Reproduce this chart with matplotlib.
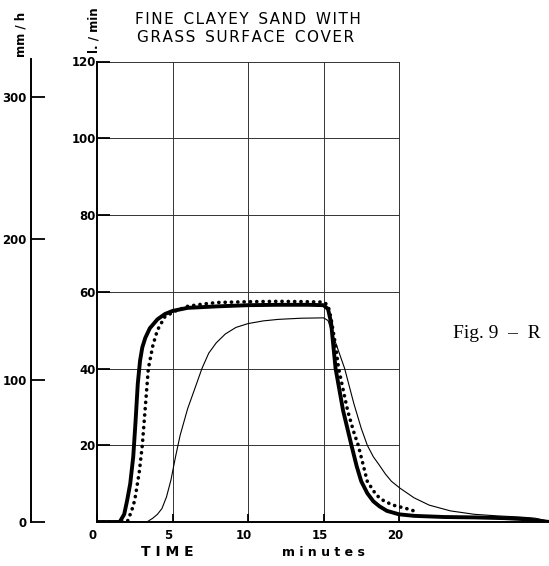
import matplotlib
matplotlib.use("Agg")
import matplotlib.pyplot as plt
from matplotlib.transforms import ScaledTranslation

# ---- data ----
t_thick = [0, 1.5, 1.8, 2.0, 2.2, 2.4, 2.55, 2.7, 2.85, 3.0, 3.2, 3.5, 4.0, 4.5, 5.0, 6, 8, 10, 12, 14, 15,
           15.3, 15.5, 15.8, 16.3, 16.85, 17.2, 17.5, 17.9, 18.3, 18.7, 19.2, 20, 21, 23, 25, 27, 28.5, 29.5, 30]
v_thick = [0, 0, 2, 5.7, 10, 17, 26, 36, 42, 45.5, 48, 50.5, 52.8, 54.2, 55.0, 55.8, 56.2, 56.5, 56.6, 56.6, 56.5,
           55.5, 52, 40, 29, 20, 14.5, 10.6, 7.5, 5.4, 4.1, 2.9, 2.0, 1.6, 1.3, 1.2, 1.0, 0.7, 0.2, 0]

t_dots = [0, 2.0, 2.3, 2.5, 2.8, 3.0, 3.2, 3.4, 3.7, 4.0, 4.5, 5.2, 6.0, 7, 8, 10, 12, 14, 15,
          15.3, 15.5, 15.8, 16.0, 16.6, 17.0, 17.3, 17.9, 18.5, 19.0, 19.6, 20.5, 21.3]
v_dots = [0, 0, 3, 5.7, 13, 20, 30, 40, 46, 50, 53.5, 55, 56.2, 56.8, 57.2, 57.4, 57.5, 57.4, 57.3,
          56.5, 53, 46, 40, 29, 23.5, 20, 10.6, 7, 5.5, 4.4, 3.5, 2.5]

t_thin = [0, 3.3, 3.7, 4.0, 4.3, 4.6, 4.9, 5.2, 5.5, 6.0, 6.5, 6.95, 7.4, 7.9, 8.5, 9.2, 10, 11, 12, 13.5, 15,
          15.3, 15.6, 16.0, 16.4, 17.0, 17.5, 17.9, 18.3, 18.7, 19.1, 19.5, 20.07, 21, 22, 23.4, 25, 26.5,
          28, 29, 29.6, 30]
v_thin = [0, 0, 1, 2, 3.5, 6.5, 11, 17, 22.5, 29.5, 35, 40, 44, 46.7, 49, 50.7, 51.7, 52.4, 52.8, 53.1, 53.2,
          52.5, 49, 44.5, 40, 31, 24.4, 20, 17, 14.8, 12.5, 10.6, 8.8, 6.3, 4.4, 2.9, 2.0, 1.6,
          1.3, 1.0, 0.5, 0]

x_ticks = [0, 5, 10, 15, 20]
y_ticks = [20, 40, 60, 80, 100, 120]
mmh_ticks = [0, 100, 200, 300]
mmh_per_lmin = 2.71

W, H = 549, 566
plt.rcParams['font.family'] = ['DejaVu Sans']
fig = plt.figure(figsize=(W / 100, H / 100), dpi=100)

x0, x1 = 97, 550
y0, y1 = 522, 61.5
ax = fig.add_axes([x0 / W, 1 - y0 / H, (x1 - x0) / W, (y0 - y1) / H])
ax.set_xlim(0, 30)
ax.set_ylim(0, 120)
for s in ['top', 'right']:
    ax.spines[s].set_visible(False)
ax.spines['left'].set_linewidth(1.4)
ax.spines['bottom'].set_linewidth(1.4)

# grid limited to 0..20 min
for gv in y_ticks:
    ax.plot([0, x_ticks[-1]], [gv, gv], color='#333333', lw=0.7, zorder=1)
for gt in x_ticks[1:]:
    ax.plot([gt, gt], [0, y_ticks[-1]], color='#333333', lw=0.7, zorder=1)

ax.set_xticks(x_ticks)
ax.set_xticklabels([str(v) for v in x_ticks], fontweight='bold')
ax.set_yticks(y_ticks)
ax.set_yticklabels([str(v) for v in y_ticks], fontweight='bold')
ax.tick_params(axis='x', direction='in', length=6, width=1.3, labelsize=8.5, pad=5)
ax.tick_params(axis='y', direction='in', length=9, width=1.3, labelsize=8.5, pad=1)
off = ScaledTranslation(-4 / 100, 0, fig.dpi_scale_trans)
for lab in ax.get_xticklabels():
    lab.set_transform(lab.get_transform() + off)

ax.plot(t_thin, v_thin, color='black', lw=0.8, zorder=3)
ax.plot(t_thick, v_thick, color='black', lw=2.8, zorder=4, solid_joinstyle='round')
ax.plot(t_dots, v_dots, color='black', lw=2.6, linestyle=(0, (0.05, 1.7)),
        dash_capstyle='round', zorder=5)

# secondary mm/h axis
sx = 31
ax2 = fig.add_axes([sx / W, 1 - y0 / H, 0.02, (y0 - 59) / H])
ax2.set_ylim(0, (y0 - 59) / (y0 - y1) * 120 * mmh_per_lmin)
ax2.set_xlim(0, 1)
ax2.patch.set_visible(False)
for s in ['top', 'right', 'bottom']:
    ax2.spines[s].set_visible(False)
ax2.spines['left'].set_linewidth(1.4)
ax2.set_xticks([])
ax2.set_yticks(mmh_ticks)
ax2.set_yticklabels([str(v) for v in mmh_ticks], fontweight='bold')
ax2.tick_params(axis='y', direction='in', length=10, width=1.3, labelsize=8.5, pad=3)

# texts
fig.text(21 / W, 1 - 34 / H, 'mm / h', rotation=90, ha='center', va='center', fontsize=8.5,
         fontweight='bold')
fig.text(94 / W, 1 - 30 / H, 'l. / min', rotation=90, ha='center', va='center', fontsize=8.5,
         fontweight='bold')
hs = '\u200a'
line1 = '  '.join(hs.join(w) for w in ['FINE', 'CLAYEY', 'SAND', 'WITH'])
line2 = '  '.join(hs.join(w) for w in ['GRASS', 'SURFACE', 'COVER'])
fig.text(248 / W, 1 - 19 / H, line1, ha='center', va='center', fontsize=11)
fig.text(246 / W, 1 - 38 / H, line2, ha='center', va='center', fontsize=11)
fig.text(167 / W, 1 - 552.5 / H, 'T I M E', ha='center', va='center', fontsize=10, fontweight='bold')
fig.text(323 / W, 1 - 553 / H, 'm i n u t e s', ha='center', va='center', fontsize=9, fontweight='bold')
fig.text(453 / W, 1 - 334 / H, 'Fig. 9  \u2013  R', ha='left', va='center', fontsize=14,
         family=['Liberation Serif', 'DejaVu Serif'])

fig.savefig('out.png', dpi=100)
